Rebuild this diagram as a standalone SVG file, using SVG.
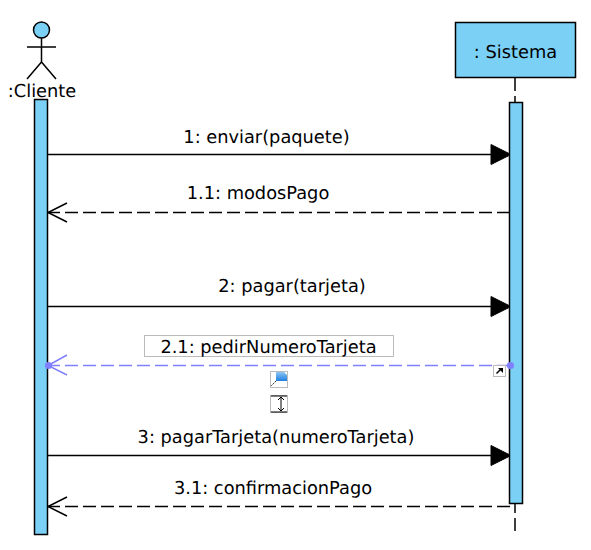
<svg xmlns="http://www.w3.org/2000/svg" width="591" height="550" viewBox="0 0 591 550">
<defs><linearGradient id="flag" x1="0" y1="0" x2="0" y2="1"><stop offset="0" stop-color="#8cc4f5"/><stop offset="1" stop-color="#1e80e0"/></linearGradient></defs>
<style>
text{font-family:"DejaVu Sans",sans-serif;font-size:17.8px;fill:#000;text-anchor:middle;text-rendering:geometricPrecision}
.b{fill:#7bd0f6;stroke:#000;stroke-width:1.5}
.l{fill:none;stroke:#000;stroke-width:1.5}
.d{fill:none;stroke:#000;stroke-width:1.5;stroke-dasharray:13 5}
.o{fill:none;stroke:#000;stroke-width:1.5}
.h{fill:#000;stroke:#000;stroke-width:1}
.p{fill:none;stroke:#8080ff;stroke-width:1.5}
.s{fill:#fff;stroke:#bbb;stroke-width:1}
</style>
<rect width="591" height="550" fill="#fff"/>
<g id="connectors">
<path class="d" d="M515 78V102M515 500V531"/>
<path class="l" d="M48 154.500H491"/><path class="h" d="M491 144.500L511 154.500L491 164.500Z"/>
<path class="d" d="M510 212.500H48"/><path class="o" d="M67 203L48 212.500L67 222"/>
<path class="l" d="M48 306.500H491"/><path class="h" d="M491 296.500L511 306.500L491 316.500Z"/>
<path class="p" d="M510 365.500H48" stroke-dasharray="13 5"/><path class="p" d="M67 355L48 365.500L67 375"/>
<path class="l" d="M48 455.500H491"/><path class="h" d="M491 445.500L511 455.500L491 465.500Z"/>
<path class="d" d="M510 506.500H48"/><path class="o" d="M67 497L48 506.500L67 516"/>
</g>
<g id="cliente">
<circle class="b" cx="41.500" cy="30" r="8"/>
<path class="l" d="M41.500 38V62M27 47H56M41.500 62L27 79M41.500 62L56 79"/>
<text x="42" y="97">:Cliente</text>
</g>
<g id="sistema">
<rect class="b" x="455.500" y="22.500" width="120" height="55"/>
<text x="515.500" y="58">: Sistema</text>
</g>
<g id="activation-cliente"><rect class="b" x="34.500" y="99.500" width="13" height="435"/></g>
<g id="activation-sistema"><rect class="b" x="509.500" y="102.500" width="13" height="401"/></g>
<g id="endpoints">
<circle cx="48.500" cy="365.500" r="3.600" fill="#8080ff"/><circle cx="510.500" cy="365.500" r="3.600" fill="#8080ff"/>
</g>
<g id="labels">
<text x="266.500" y="143">1: enviar(paquete)</text>
<text x="258" y="199">1.1: modosPago</text>
<text x="292" y="292">2: pagar(tarjeta)</text>
<rect class="s" x="144.500" y="335.500" width="249" height="21"/>
<text x="268.500" y="353">2.1: pedirNumeroTarjeta</text>
<text x="276" y="443">3: pagarTarjeta(numeroTarjeta)</text>
<text x="273" y="494">3.1: confirmacionPago</text>
</g>
<g id="handles">
<rect class="s" x="270.500" y="371.500" width="17" height="16"/>
<path d="M276 372H284L287 375V381H276Z" fill="url(#flag)"/>
<path d="M276 381L271 386" stroke="#333" stroke-dasharray="2 1" fill="none"/>
<rect class="s" x="270.500" y="395.500" width="17" height="17"/>
<path d="M271 396H287M271 412H287M281 397V411" stroke="#000" fill="none"/>
<path d="M278 400L281 397L284 400M278 408L281 411L284 408" stroke="#000" fill="none"/>
<rect class="s" x="493.500" y="365.500" width="12" height="11"/>
<path d="M496.500 373.500L501 369" stroke="#000" stroke-width="1.500"/><path d="M498 368H503V373Z" fill="#000"/>
</g>
</svg>
